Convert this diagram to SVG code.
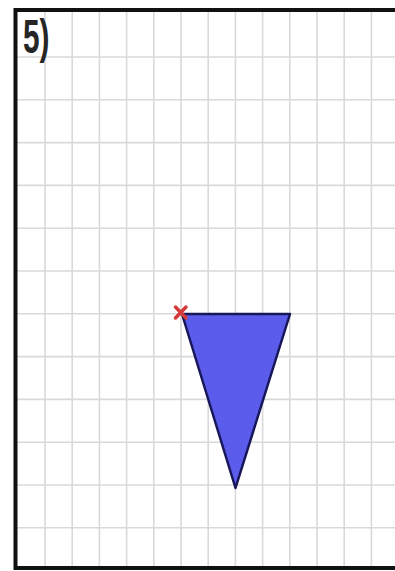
<svg xmlns="http://www.w3.org/2000/svg" width="395" height="571" viewBox="0 0 395 571">
  <style>
    .grid line { stroke: #d9d9d9; stroke-width: 1.6; }
    .frame { stroke: #111; stroke-width: 4; fill: none; }
    .label { font-family: "Liberation Sans", Arial, sans-serif; font-weight: bold; font-size: 48px; fill: #262626; }
  </style>
  <rect x="0" y="0" width="395" height="571" fill="#ffffff"/>
  <g id="grid" class="grid">
    <line x1="45" y1="10" x2="45" y2="568"/>
    <line x1="72.2" y1="10" x2="72.2" y2="568"/>
    <line x1="99.4" y1="10" x2="99.4" y2="568"/>
    <line x1="126.6" y1="10" x2="126.6" y2="568"/>
    <line x1="153.8" y1="10" x2="153.8" y2="568"/>
    <line x1="181" y1="10" x2="181" y2="568"/>
    <line x1="208.2" y1="10" x2="208.2" y2="568"/>
    <line x1="235.4" y1="10" x2="235.4" y2="568"/>
    <line x1="262.6" y1="10" x2="262.6" y2="568"/>
    <line x1="289.8" y1="10" x2="289.8" y2="568"/>
    <line x1="317" y1="10" x2="317" y2="568"/>
    <line x1="344.2" y1="10" x2="344.2" y2="568"/>
    <line x1="371.4" y1="10" x2="371.4" y2="568"/>
    <line x1="15" y1="57" x2="395" y2="57"/>
    <line x1="15" y1="99.8" x2="395" y2="99.8"/>
    <line x1="15" y1="142.6" x2="395" y2="142.6"/>
    <line x1="15" y1="185.4" x2="395" y2="185.4"/>
    <line x1="15" y1="228.2" x2="395" y2="228.2"/>
    <line x1="15" y1="271" x2="395" y2="271"/>
    <line x1="15" y1="313.8" x2="395" y2="313.8"/>
    <line x1="15" y1="356.6" x2="395" y2="356.6"/>
    <line x1="15" y1="399.4" x2="395" y2="399.4"/>
    <line x1="15" y1="442.2" x2="395" y2="442.2"/>
    <line x1="15" y1="485" x2="395" y2="485"/>
    <line x1="15" y1="527.8" x2="395" y2="527.8"/>
  </g>
  <g id="frame">
    <path class="frame" d="M395 10 H15.5 V568 H395"/>
  </g>
  <g id="label">
    <text class="label" transform="translate(23 53) scale(0.62 1)" x="0" y="0">5)</text>
  </g>
  <g id="triangle">
    <polygon points="182,314 290,314 235.5,488" fill="#5c5cec" stroke="#17175a" stroke-width="2.5" stroke-linejoin="round"/>
  </g>
  <g id="marker">
    <path d="M175.5 307 L186 318 M186 307 L175.5 318" stroke="#d43a3a" stroke-width="3.5" stroke-linecap="round"/>
  </g>
</svg>
